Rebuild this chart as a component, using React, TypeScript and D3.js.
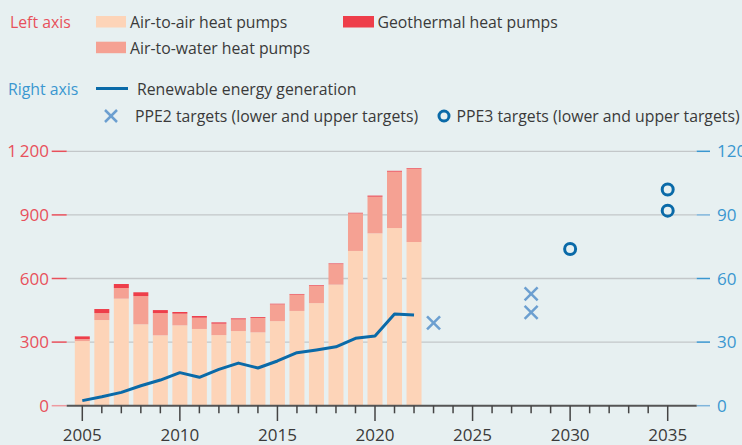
import React from "react";
import * as d3 from "d3";

const years = [2005, 2006, 2007, 2008, 2009, 2010, 2011, 2012, 2013, 2014, 2015, 2016, 2017, 2018, 2019, 2020, 2021, 2022];
const airToAir = [305, 404, 505, 384, 332, 379, 362, 333, 352, 346, 399, 447, 484, 571, 730, 813, 838, 772];
const airToWater = [9, 33, 50, 133, 105, 55, 53, 54, 55, 68, 79, 77, 82, 97, 177, 173, 266, 346];
const geothermal = [13, 19, 19, 18, 14, 8, 8, 6, 5, 4, 3, 3, 3, 3, 3, 5, 4, 3];
const renewable = [2.4, 4.2, 6.3, 9.4, 12.1, 15.6, 13.4, 17.1, 20.1, 17.8, 21.1, 25.0, 26.3, 27.8, 31.8, 32.9, 43.2, 42.8];
const ppe2 = [
  { year: 2023, value: 39.1 },
  { year: 2028, value: 44.0 },
  { year: 2028, value: 52.7 },
];
const ppe3 = [
  { year: 2030, value: 73.9 },
  { year: 2035, value: 92.0 },
  { year: 2035, value: 102.0 },
];
const leftTicks = [0, 300, 600, 900, 1200];
const leftTickLabels = ["0", "300", "600", "900", "1\u2009200"];
const rightTicks = [0, 30, 60, 90, 120];
const xLabelYears = [2005, 2010, 2015, 2020, 2025, 2030, 2035];

const FONT = "'Open Sans', 'Noto Sans', sans-serif";
const BG = "#e7f0f1";
const C_AA = "#fdd4b8";
const C_AW = "#f5a193";
const C_GEO = "#ee3e4a";
const C_LINE = "#0a6aa8";
const C_CROSS = "#6c9fd0";
const C_LEFT = "#e8505b";
const C_RIGHT = "#3a97d0";
const C_TEXT = "#3a3a3a";

export default function App() {
  const width = 742;
  const height = 445;
  const x = d3.scaleLinear().domain([2005, 2035]).range([82.3, 667.7]);
  const yL = d3.scaleLinear().domain([0, 1200]).range([405.7, 151.3]);
  const yR = d3.scaleLinear().domain([0, 120]).range([405.7, 151.3]);
  const axisX0 = 66.7;
  const axisX1 = 696.7;
  const barW = 15;

  const rows = years.map((yr, i) => ({
    year: yr,
    aa: airToAir[i],
    aw: airToWater[i],
    geo: geothermal[i],
  }));
  const stack = d3.stack<any>().keys(["aa", "aw", "geo"])(rows);
  const colors: Record<string, string> = { aa: C_AA, aw: C_AW, geo: C_GEO };

  const line = d3
    .line<number>()
    .x((d, i) => x(years[i]))
    .y((d) => yR(d));

  const allYears = d3.range(2005, 2036);

  return (
    <svg width={width} height={height} style={{ position: "absolute", left: 0, top: 0, background: BG }} fontFamily={FONT}>
      <rect x={0} y={0} width={width} height={height} fill={BG} />

      {/* legend */}
      <g fontSize={15.8} fill={C_TEXT}>
        <text x={10} y={28} fill={C_LEFT}>Left axis</text>
        <rect x={96} y={16} width={30} height={11.5} fill={C_AA} />
        <text x={130} y={28}>Air-to-air heat pumps</text>
        <rect x={343} y={16} width={31} height={11.5} fill={C_GEO} />
        <text x={377.5} y={28}>Geothermal heat pumps</text>
        <rect x={96} y={41.7} width={30} height={11.5} fill={C_AW} />
        <text x={130} y={53.5}>Air-to-water heat pumps</text>

        <text x={8} y={95} fill={C_RIGHT}>Right axis</text>
        <line x1={96} x2={128} y1={88.5} y2={88.5} stroke={C_LINE} strokeWidth={3} />
        <text x={137} y={95}>Renewable energy generation</text>
        <g stroke={C_CROSS} strokeWidth={2.5}>
          <line x1={105} x2={117} y1={110} y2={122} />
          <line x1={105} x2={117} y1={122} y2={110} />
        </g>
        <text x={135} y={121.5}>PPE2 targets (lower and upper targets)</text>
        <circle cx={444} cy={116} r={5} fill="none" stroke={C_LINE} strokeWidth={3} />
        <text x={456.5} y={121.5}>PPE3 targets (lower and upper targets)</text>
      </g>

      {/* gridlines */}
      {leftTicks.slice(1).map((t) => (
        <line key={"g" + t} x1={axisX0} x2={axisX1} y1={yL(t)} y2={yL(t)} stroke="#c3c7c9" strokeWidth={1.3} />
      ))}

      {/* left axis ticks and labels */}
      {leftTicks.map((t, i) => (
        <g key={"l" + t}>
          <line x1={51.7} x2={axisX0} y1={yL(t)} y2={yL(t)} stroke={t === 0 ? "#ee9aa0" : C_LEFT} strokeWidth={1.5} />
          <text x={49} y={yL(t) + 6} textAnchor="end" fontSize={17} fill={C_LEFT}>{leftTickLabels[i]}</text>
        </g>
      ))}

      {/* right axis ticks and labels */}
      {rightTicks.map((t) => (
        <g key={"r" + t}>
          <line x1={axisX1} x2={710} y1={yR(t)} y2={yR(t)} stroke={t === 0 || t === 90 ? "#7fb5dc" : C_RIGHT} strokeWidth={1.5} />
          <text x={717} y={yR(t) + 6} fontSize={17} fill={C_RIGHT}>{t}</text>
        </g>
      ))}

      {/* bars */}
      {stack.map((layer) => (
        <g key={layer.key} fill={colors[layer.key]}>
          {layer.map((d: any, i: number) => (
            <rect
              key={i}
              x={x(d.data.year) - barW / 2}
              y={yL(d[1])}
              width={barW}
              height={yL(d[0]) - yL(d[1])}
            />
          ))}
        </g>
      ))}

      {/* renewable line */}
      <path d={line(renewable) || ""} fill="none" stroke={C_LINE} strokeWidth={3} strokeLinejoin="round" />

      {/* PPE2 crosses */}
      <g stroke={C_CROSS} strokeWidth={2.5}>
        {ppe2.map((p, i) => (
          <g key={"x" + i} transform={`translate(${x(p.year)},${yR(p.value)})`}>
            <line x1={-6.5} x2={6.5} y1={-6.5} y2={6.5} />
            <line x1={-6.5} x2={6.5} y1={6.5} y2={-6.5} />
          </g>
        ))}
      </g>

      {/* PPE3 circles */}
      {ppe3.map((p, i) => (
        <circle key={"c" + i} cx={x(p.year)} cy={yR(p.value)} r={5.5} fill="none" stroke={C_LINE} strokeWidth={3} />
      ))}

      {/* x axis */}
      <line x1={axisX0} x2={axisX1} y1={yL(0)} y2={yL(0)} stroke="#555" strokeWidth={2} />
      {allYears.map((yr) => (
        <line
          key={"t" + yr}
          x1={x(yr)}
          x2={x(yr)}
          y1={yL(0)}
          y2={yr % 5 === 0 ? 421 : 413.3}
          stroke="#444"
          strokeWidth={1.5}
        />
      ))}
      {xLabelYears.map((yr) => (
        <text key={"xl" + yr} x={x(yr)} y={441} textAnchor="middle" fontSize={17} fill={C_TEXT}>{yr}</text>
      ))}
    </svg>
  );
}
